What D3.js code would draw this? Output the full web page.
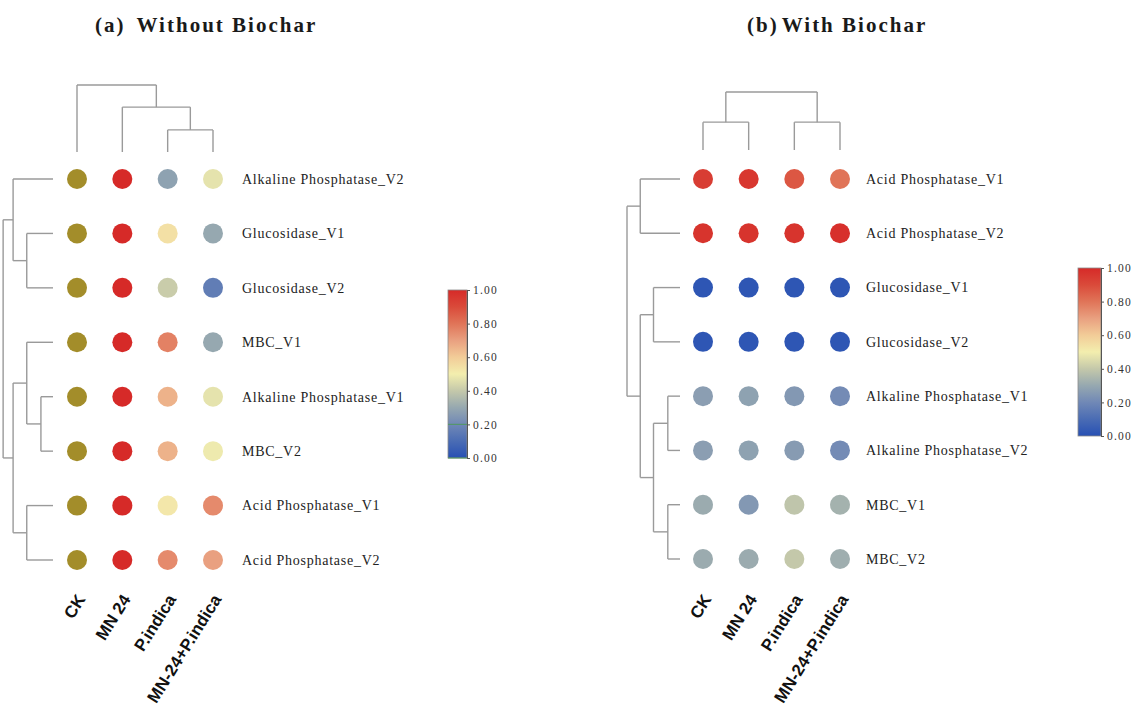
<!DOCTYPE html>
<html>
<head>
<meta charset="utf-8">
<script src="https://cdn.jsdelivr.net/npm/d3@7"></script>
<style>
  html, body { margin: 0; padding: 0; background: #fff; }
  svg { display: block; }
</style>
</head>
<body>
<svg id="chart" width="1132" height="720"></svg>
<script>
// ---- data ---------------------------------------------------------------
const treatments = ["CK", "MN 24", "P.indica", "MN-24+P.indica"];

const rowsA = [
  "Alkaline Phosphatase_V2", "Glucosidase_V1", "Glucosidase_V2", "MBC_V1",
  "Alkaline Phosphatase_V1", "MBC_V2", "Acid Phosphatase_V1", "Acid Phosphatase_V2"
];
// normalised values; CK has no scaled value in this panel (null)
const valuesA = [
  [null, 1.00, 0.28, 0.47],
  [null, 1.00, 0.54, 0.30],
  [null, 1.00, 0.41, 0.16],
  [null, 1.00, 0.77, 0.30],
  [null, 1.00, 0.66, 0.47],
  [null, 1.00, 0.66, 0.49],
  [null, 1.00, 0.52, 0.75],
  [null, 1.00, 0.75, 0.70]
];

const rowsB = [
  "Acid Phosphatase_V1", "Acid Phosphatase_V2", "Glucosidase_V1", "Glucosidase_V2",
  "Alkaline Phosphatase_V1", "Alkaline Phosphatase_V2", "MBC_V1", "MBC_V2"
];
const valuesB = [
  [0.94, 0.96, 0.87, 0.80],
  [0.97, 0.97, 0.97, 0.98],
  [0.02, 0.02, 0.02, 0.02],
  [0.02, 0.02, 0.02, 0.02],
  [0.27, 0.28, 0.25, 0.21],
  [0.27, 0.28, 0.26, 0.21],
  [0.31, 0.25, 0.39, 0.33],
  [0.31, 0.31, 0.40, 0.32]
];

// hierarchical clustering trees (h = merge height, leaves = indices)
const rowTreeA = { h: 0.95, c: [
  { h: 0.76, c: [0, { h: 0.50, c: [1, 2] }] },
  { h: 0.76, c: [
    { h: 0.50, c: [3, { h: 0.23, c: [4, 5] }] },
    { h: 0.50, c: [6, 7] }
  ] }
] };
const colTreeA = { h: 1.0, c: [0, { h: 0.67, c: [1, { h: 0.33, c: [2, 3] }] }] };

const rowTreeB = { h: 1.0, c: [
  { h: 0.75, c: [0, 1] },
  { h: 0.75, c: [
    { h: 0.50, c: [2, 3] },
    { h: 0.50, c: [{ h: 0.23, c: [4, 5] }, { h: 0.23, c: [6, 7] }] }
  ] }
] };
const colTreeB = { h: 1.0, c: [{ h: 0.48, c: [0, 1] }, { h: 0.48, c: [2, 3] }] };

const legendTicks = [0, 0.2, 0.4, 0.6, 0.8, 1.0];

// ---- colour map ---------------------------------------------------------
const colorStops = [0, 0.1, 0.2, 0.3, 0.4, 0.5, 0.6, 0.7, 0.8, 0.9, 1.0];
const colorRange = ["#2750b4", "#4a6cb4", "#7088b6", "#96a8b0", "#c4c8aa",
                    "#f3eeae", "#f2cc98", "#e9a080", "#e07458", "#da4a3a", "#d62a28"];
const color = d3.scaleLinear().domain(colorStops).range(colorRange)
  .interpolate(d3.interpolateRgb);
const missingColor = "#a38d2a";

const svg = d3.select("#chart");
const defs = svg.append("defs");

const serif = "'Liberation Serif', 'Times New Roman', serif";
const sans = "'Liberation Sans', Arial, sans-serif";

function drawPanel(cfg) {
  const g = svg.append("g");
  const x = d3.scalePoint().domain(d3.range(treatments.length)).range(cfg.xRange);
  const y = d3.scalePoint().domain(d3.range(cfg.rows.length)).range(cfg.yRange);

  // title
  const title = g.append("text")
    .attr("x", cfg.titleX).attr("y", 32)
    .attr("font-family", serif).attr("font-weight", "bold")
    .attr("font-size", 21).attr("letter-spacing", 2)
    .attr("fill", "#1a1a1a");
  title.append("tspan").text(cfg.titleTag);
  title.append("tspan").attr("dx", cfg.titleGap).text(cfg.titleText);

  // dendrograms
  const lineColor = "#9a9a9a";
  const dg = g.append("g").attr("fill", "none").attr("stroke", lineColor)
    .attr("stroke-width", 1.4);

  function layout(node, posScale) {
    if (typeof node === "number") return { pos: posScale(node), h: 0 };
    const kids = node.c.map(k => layout(k, posScale));
    node._kids = kids;
    return { pos: (kids[0].pos + kids[kids.length - 1].pos) / 2, h: node.h, node };
  }
  function drawTree(info, hScale, orient) {
    if (!info.node) return;
    const kids = info.node._kids;
    const hp = hScale(info.h);
    kids.forEach(k => {
      const kp = hScale(k.h);
      if (orient === "row") dg.append("path").attr("d", `M${hp},${k.pos}H${kp}`);
      else dg.append("path").attr("d", `M${k.pos},${hp}V${kp}`);
      drawTree(k, hScale, orient);
    });
    const a = kids[0].pos, b = kids[kids.length - 1].pos;
    if (orient === "row") dg.append("path").attr("d", `M${hp},${a}V${b}`);
    else dg.append("path").attr("d", `M${a},${hp}H${b}`);
  }
  const rowH = d3.scaleLinear().domain([0, 1]).range(cfg.rowDendro);
  const colH = d3.scaleLinear().domain([0, 1]).range(cfg.colDendro);
  drawTree(layout(cfg.rowTree, y), rowH, "row");
  drawTree(layout(cfg.colTree, x), colH, "col");

  // dots
  const cells = [];
  cfg.values.forEach((row, i) => row.forEach((v, j) => cells.push({ i, j, v })));
  g.append("g").selectAll("circle").data(cells).join("circle")
    .attr("cx", d => x(d.j)).attr("cy", d => y(d.i)).attr("r", 10)
    .attr("fill", d => d.v === null ? missingColor : color(d.v));

  // row labels
  g.append("g").selectAll("text").data(cfg.rows).join("text")
    .attr("x", cfg.xRange[1] + cfg.labelGap).attr("y", (d, i) => y(i))
    .attr("dy", "0.35em")
    .attr("font-family", serif).attr("font-size", 14)
    .attr("letter-spacing", 0.75).attr("fill", "#222")
    .text(d => d);

  // column labels
  g.append("g").selectAll("text").data(treatments).join("text")
    .attr("transform", (d, j) => `translate(${x(j) + 4},${cfg.colLabelY}) rotate(-58)`)
    .attr("text-anchor", "end").attr("dy", "0.35em")
    .attr("font-family", sans).attr("font-weight", "bold")
    .attr("font-size", 17).attr("fill", "#111")
    .text(d => d);

  // colour legend
  const gradId = "grad" + cfg.id;
  const grad = defs.append("linearGradient").attr("id", gradId)
    .attr("x1", 0).attr("y1", 1).attr("x2", 0).attr("y2", 0);
  colorStops.forEach((s, k) => grad.append("stop")
    .attr("offset", s).attr("stop-color", colorRange[k]));
  const ly = d3.scaleLinear().domain([0, 1]).range(cfg.legendY);
  const lg = g.append("g");
  lg.append("rect")
    .attr("x", cfg.legendX).attr("y", ly(1))
    .attr("width", cfg.legendW).attr("height", ly(0) - ly(1))
    .attr("fill", `url(#${gradId})`).attr("stroke", "#8a8a8a").attr("stroke-width", 0.8);
  (cfg.legendMarks || []).forEach(m => lg.append("line")
    .attr("x1", cfg.legendX).attr("x2", cfg.legendX + cfg.legendW)
    .attr("y1", ly(m)).attr("y2", ly(m))
    .attr("stroke", "#4f9a5a").attr("stroke-width", 1.2).attr("opacity", 0.8));
  const axis = d3.axisRight(ly).tickValues(legendTicks)
    .tickFormat(d3.format(".2f")).tickSize(3).tickPadding(3);
  const ax = lg.append("g")
    .attr("transform", `translate(${cfg.legendX + cfg.legendW},0)`)
    .call(axis);
  ax.select(".domain").attr("stroke", "#555").attr("stroke-width", 1);
  ax.selectAll(".tick line").attr("stroke", "#555");
  ax.selectAll(".tick text")
    .attr("font-family", serif).attr("font-size", 11.5)
    .attr("letter-spacing", 1.2).attr("fill", "#333");
}

drawPanel({
  id: "A",
  rows: rowsA, values: valuesA, rowTree: rowTreeA, colTree: colTreeA,
  xRange: [77, 213], yRange: [179, 560],
  rowDendro: [53, 0.5], colDendro: [152, 85],
  labelGap: 29, colLabelY: 596,
  titleX: 95, titleTag: "(a)", titleGap: 11, titleText: "Without Biochar",
  legendX: 448, legendW: 19, legendY: [458, 290], legendMarks: [0.2, 0.0]
});

drawPanel({
  id: "B",
  rows: rowsB, values: valuesB, rowTree: rowTreeB, colTree: colTreeB,
  xRange: [703, 840], yRange: [179, 559],
  rowDendro: [680, 627], colDendro: [150, 92],
  labelGap: 26, colLabelY: 596,
  titleX: 747, titleTag: "(b)", titleGap: 3, titleText: "With Biochar",
  legendX: 1078, legendW: 23, legendY: [436, 268]
});
</script>
</body>
</html>
